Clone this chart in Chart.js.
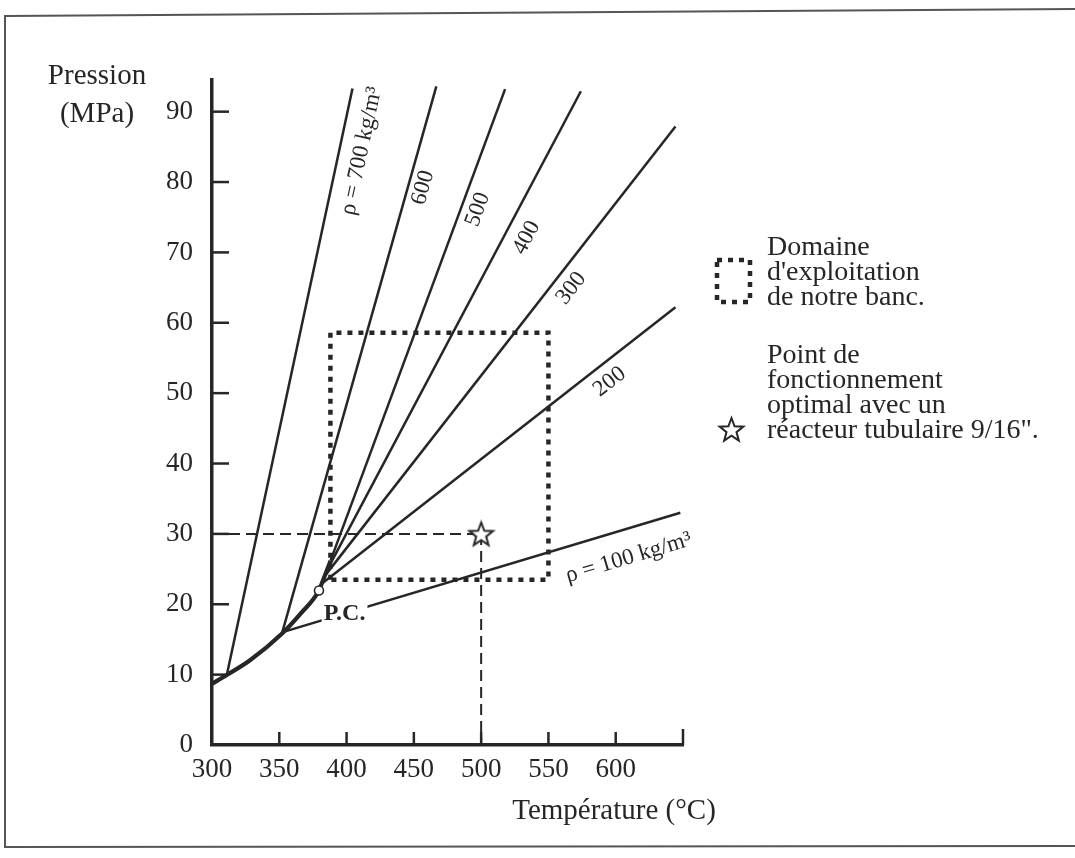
<!DOCTYPE html>
<html>
<head>
<meta charset="utf-8">
<script src="https://cdn.jsdelivr.net/npm/chart.js@4"></script>
<style>
  html, body { margin: 0; padding: 0; background: #ffffff; }
  #wrap { width: 1075px; height: 858px; }
</style>
</head>
<body>
<div id="wrap"><canvas id="c" width="1075" height="858"></canvas></div>
<script>
// ---------------- data ----------------
const temperatureTicks = [300, 350, 400, 450, 500, 550, 600, 650];
const temperatureTickLabels = ['300', '350', '400', '450', '500', '550', '600', ''];
const pressureTicks = [0, 10, 20, 30, 40, 50, 60, 70, 80, 90];
const pressureTickLabels = ['0', '10', '20', '30', '40', '50', '60', '70', '80', '90'];

// saturation curve up to the critical point, then the common trunk of the isochores
const saturationT = [300, 311, 328, 351.9, 366, 379.5, 381.5, 388.1];
const saturationP = [8.7, 9.95, 12.0, 15.8, 18.7, 21.95, 22.9, 26.2];

// isochores (kg/m3)
const densityNames  = ['ρ = 700 kg/m³', '600', '500', '400', '300', '200', 'ρ = 100 kg/m³'];
const isoStartT = [311, 351.9, 388.1, 385.9, 383.7, 381.5, 351.9];
const isoStartP = [9.95, 15.8, 26.2, 25.0, 24.0, 22.9, 16.0];
const isoEndT   = [404.4, 466.7, 517.8, 574.1, 644.4, 644.4, 648];
const isoEndP   = [93.3, 93.6, 93.2, 92.9, 87.9, 62.2, 33.0];

// operating domain of the bench
const domainT = [388, 388, 550, 550, 388];
const domainP = [23.5, 58.6, 58.6, 23.5, 23.5];

// optimal operating point and critical point
const optimumT = [500];
const optimumP = [30];
const criticalT = [379.5];
const criticalP = [21.95];

// ---------------- styling ----------------
const FONT = "'Liberation Serif', 'Times New Roman', serif";
const INK = '#262626';

const pts = (xs, ys) => xs.map((x, i) => ({ x: x, y: ys[i] }));

function makeStar(size, lw) {
  const c = document.createElement('canvas');
  c.width = size; c.height = size;
  const g = c.getContext('2d');
  const R = size / 2 - lw, r = R * 0.42;
  const cx = size / 2, cy = size / 2 + R * 0.08;
  g.beginPath();
  for (let k = 0; k < 10; k++) {
    const a = -Math.PI / 2 + k * Math.PI / 5;
    const rr = (k % 2) ? r : R;
    g.lineTo(cx + rr * Math.cos(a), cy + rr * Math.sin(a));
  }
  g.closePath();
  g.fillStyle = '#ffffff';
  g.fill();
  g.lineWidth = lw;
  g.lineJoin = 'miter';
  g.strokeStyle = INK;
  g.stroke();
  return c;
}
const starImg = makeStar(29, 2);

// label anchors (data units) for the isochore names
const isoLabelAnchor = [[411.2, 84.4], [456.8, 79.2], [497.5, 76.1], [533.8, 72.1], [567.0, 64.9], [595.5, 51.6], [609.6, 26.6]];

const datasets = [];
datasets.push({ label: 'optimum', data: pts(optimumT, optimumP), showLine: false,
  pointStyle: starImg, pointRadius: 14, order: 0 });
datasets.push({ label: 'P.C.', data: pts(criticalT, criticalP), showLine: false,
  pointStyle: 'circle', pointRadius: 4.5, pointBackgroundColor: '#ffffff',
  pointBorderColor: INK, pointBorderWidth: 1.6, order: 0 });
datasets.push({ label: 'saturation', data: pts(saturationT, saturationP), showLine: true,
  borderColor: INK, borderWidth: 4.2, pointRadius: 0, cubicInterpolationMode: 'monotone', order: 2 });
densityNames.forEach((name, i) => {
  datasets.push({ label: name,
    data: [{ x: isoStartT[i], y: isoStartP[i] }, { x: isoEndT[i], y: isoEndP[i] }],
    showLine: true, borderColor: INK, borderWidth: 2.5, pointRadius: 0, order: 3 });
});
datasets.push({ label: 'domaine', data: pts(domainT, domainP), showLine: true,
  borderColor: INK, borderWidth: 4.5, borderDash: [5, 6], borderCapStyle: 'butt',
  pointRadius: 0, order: 4 });
datasets.push({ label: 'T repère', data: [{ x: temperatureTicks[0], y: optimumP[0] }, { x: optimumT[0], y: optimumP[0] }],
  showLine: true, borderColor: INK, borderWidth: 2, borderDash: [11, 6], pointRadius: 0, order: 5 });
datasets.push({ label: 'P repère', data: [{ x: optimumT[0], y: optimumP[0] }, { x: optimumT[0], y: pressureTicks[0] }],
  showLine: true, borderColor: INK, borderWidth: 2, borderDash: [11, 6], pointRadius: 0, order: 5 });

const ISO0 = 3; // index of first isochore dataset

const decor = {
  id: 'decor',
  beforeDraw(chart) {
    const ctx = chart.ctx;
    ctx.save();
    ctx.fillStyle = '#ffffff';
    ctx.fillRect(0, 0, chart.width, chart.height);
    ctx.restore();
  },
  afterDatasetsDraw(chart) {
    const ctx = chart.ctx;
    const xs = chart.scales.x, ys = chart.scales.y;
    ctx.save();
    // isochore names, rotated along their lines
    densityNames.forEach((name, i) => {
      const meta = chart.getDatasetMeta(ISO0 + i);
      const p0 = meta.data[0], p1 = meta.data[1];
      const ang = Math.atan2(p1.y - p0.y, p1.x - p0.x);
      const px = xs.getPixelForValue(isoLabelAnchor[i][0]);
      const py = ys.getPixelForValue(isoLabelAnchor[i][1]);
      ctx.save();
      ctx.translate(px, py);
      ctx.rotate(ang);
      ctx.font = '23px ' + FONT;
      ctx.fillStyle = INK;
      ctx.textAlign = 'center';
      ctx.textBaseline = 'middle';
      ctx.fillText(name, 0, 0);
      ctx.restore();
    });
    // critical point label, interrupting the 100 kg/m3 isochore
    const cx = xs.getPixelForValue(398.5), cy = ys.getPixelForValue(18.8);
    ctx.font = 'bold 24px ' + FONT;
    const w = ctx.measureText('P.C.').width;
    ctx.fillStyle = '#ffffff';
    ctx.fillRect(cx - w / 2 - 2, cy - 12, w + 4, 24);
    ctx.fillStyle = INK;
    ctx.textAlign = 'center';
    ctx.textBaseline = 'middle';
    ctx.fillText('P.C.', cx, cy + 1);
    ctx.restore();
  },
  afterDraw(chart) {
    const ctx = chart.ctx;
    const xs = chart.scales.x, ys = chart.scales.y;
    const area = chart.chartArea;
    ctx.save();
    ctx.strokeStyle = INK;
    ctx.lineCap = 'butt';
    // inward tick marks
    ctx.lineWidth = 2.5;
    pressureTicks.slice(1).forEach(v => {
      const y = ys.getPixelForValue(v);
      ctx.beginPath(); ctx.moveTo(area.left, y); ctx.lineTo(area.left + 17, y); ctx.stroke();
    });
    temperatureTicks.slice(1).forEach((v, i, arr) => {
      const x = xs.getPixelForValue(v);
      const len = (i === arr.length - 1) ? 16 : 13;
      ctx.beginPath(); ctx.moveTo(x, area.bottom); ctx.lineTo(x, area.bottom - len); ctx.stroke();
    });
    // axis titles
    ctx.fillStyle = INK;
    ctx.font = '29px ' + FONT;
    ctx.textAlign = 'center';
    ctx.textBaseline = 'middle';
    ctx.fillText('Pression', 97, 76);
    ctx.fillText('(MPa)', 97, 114);
    ctx.fillText('Température (°C)', 614, 811);
    // legend
    ctx.textAlign = 'left';
    ctx.font = '28px ' + FONT;
    ['Domaine', "d'exploitation", 'de notre banc.'].forEach((t, i) => ctx.fillText(t, 767, 248 + i * 25));
    ['Point de', 'fonctionnement', 'optimal avec un', 'réacteur tubulaire 9/16".'].forEach((t, i) => ctx.fillText(t, 767, 356 + i * 25));
    ctx.save();
    ctx.lineWidth = 4.5;
    ctx.setLineDash([5, 6]);
    ctx.strokeRect(717, 260, 33, 42);
    ctx.restore();
    ctx.drawImage(starImg, 731 - 14, 429 - 14);
    // frame
    ctx.lineWidth = 2;
    ctx.strokeStyle = '#555555';
    ctx.beginPath();
    ctx.moveTo(1075, 9); ctx.lineTo(5, 16); ctx.lineTo(5, 847); ctx.lineTo(1075, 846);
    ctx.stroke();
    ctx.restore();
  }
};

new Chart(document.getElementById('c'), {
  type: 'scatter',
  data: { datasets: datasets },
  options: {
    responsive: false,
    animation: false,
    devicePixelRatio: 1,
    layout: { padding: { left: 0, right: 392, top: 80, bottom: 0 } },
    plugins: { legend: { display: false }, tooltip: { enabled: false }, title: { display: false } },
    elements: { line: { tension: 0 } },
    scales: {
      x: {
        type: 'linear', position: 'bottom', min: 300, max: 650,
        afterBuildTicks: s => { s.ticks = temperatureTicks.map(v => ({ value: v })); },
        afterFit: s => { s.height = 113; },
        grid: { display: false, drawTicks: false },
        border: { display: true, width: 3.5, color: INK },
        ticks: {
          padding: 9, color: INK, font: { family: FONT, size: 27 },
          maxRotation: 0, autoSkip: false,
          callback: (v) => temperatureTickLabels[temperatureTicks.indexOf(v)]
        }
      },
      y: {
        type: 'linear', position: 'left', min: 0, max: 94.5,
        afterBuildTicks: s => { s.ticks = pressureTicks.map(v => ({ value: v })); },
        afterFit: s => { s.width = 212; },
        grid: { display: false, drawTicks: false },
        border: { display: true, width: 3.5, color: INK },
        ticks: {
          padding: 19, color: INK, font: { family: FONT, size: 27 }, autoSkip: false,
          callback: (v) => pressureTickLabels[pressureTicks.indexOf(v)]
        }
      }
    }
  },
  plugins: [decor]
});
</script>
</body>
</html>
